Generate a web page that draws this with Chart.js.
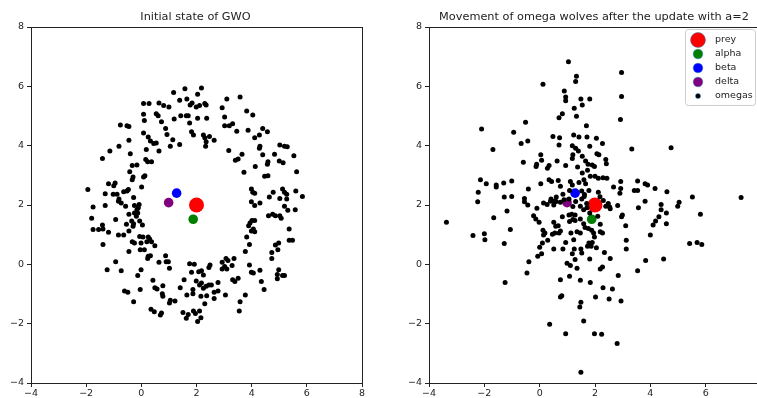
<!DOCTYPE html>
<html>
<head>
<meta charset="utf-8">
<script src="https://cdn.jsdelivr.net/npm/chart.js@4.4.0/dist/chart.umd.min.js"></script>
<style>
  html, body { margin: 0; padding: 0; background: #fff; overflow: hidden; width: 757px; height: 398px; }
  #left { position: absolute; left: 0; top: 0; }
  #right { position: absolute; left: 398px; top: 0; }
</style>
</head>
<body>
<canvas id="left" width="380" height="398"></canvas>
<canvas id="right" width="400" height="398"></canvas>
<script>
// wolf pack positions
const axisTicks = [-4, -2, 0, 2, 4, 6, 8];
const legendLabels = ['prey', 'alpha', 'beta', 'delta', 'omegas'];
const titles = ['Initial state of GWO', 'Movement of omega wolves after the update with a=2'];

const prey = [2.0, 2.0];
const alpha = [1.88, 1.52];
const beta = [1.28, 2.40];
const delta = [0.99, 2.08];

// omegas before the update: a ring around the prey
const startOmegas = [
  [1.17,5.79],[1.58,5.92],[2.18,5.94],[2.04,5.73],[1.39,5.53],[1.65,5.57],[1.84,5.44],[1.99,5.30],
  [1.77,5.37],[2.11,5.35],[2.30,5.42],[2.35,5.37],[1.00,5.30],[0.64,5.44],[0.81,5.35],[0.08,5.42],
  [0.28,5.42],[2.93,5.28],[3.10,5.57],[3.58,5.64],[3.82,5.17],[4.04,5.03],[3.02,4.97],[3.19,4.67],
  [3.31,4.74],[3.46,4.49],[3.02,4.67],[0.08,5.06],[0.11,4.85],[0.54,5.08],[0.61,5.01],[0.73,4.81],
  [0.88,4.58],[1.19,4.90],[1.43,5.01],[1.63,5.01],[1.70,5.01],[1.75,4.76],[2.04,4.92],[2.37,4.92],
  [-0.76,4.70],[-0.52,4.67],[-0.45,4.65],[0.08,4.43],[0.25,4.29],[0.33,4.16],[0.45,4.07],[0.54,4.09],
  [0.93,4.38],[1.82,4.47],[1.89,4.36],[2.25,4.36],[2.30,4.27],[2.47,4.31],[2.64,4.18],[2.35,4.13],
  [2.33,3.98],[1.14,4.20],[1.05,3.98],[1.39,4.04],[-0.45,4.18],[-0.81,3.98],[-1.14,3.82],[-1.41,3.57],
  [-0.40,3.73],[0.18,3.87],[0.64,3.82],[0.16,3.53],[0.23,3.46],[0.37,3.46],[-0.42,3.12],[-0.33,3.33],
  [-0.16,3.35],[-0.30,2.94],[-0.33,2.85],[0.13,2.99],[0.08,2.94],[0.01,2.61],[-1.19,2.72],[-0.95,2.74],
  [-1.00,2.65],[-1.94,2.52],[-1.31,2.38],[-1.02,2.36],[-0.88,2.36],[-0.64,2.45],[-0.52,2.47],[-0.47,2.52],
  [-0.28,2.25],[-0.81,2.20],
  [4.11,4.27],[4.28,4.36],[4.57,4.47],[3.87,4.52],[4.40,4.58],[4.30,3.98],[4.28,3.91],[3.17,3.84],
  [3.41,3.51],[3.51,3.55],[3.65,3.71],[3.72,3.10],[4.13,3.30],[4.59,3.46],[4.83,3.71],[5.02,4.02],
  [5.19,3.98],[5.29,3.96],[5.00,3.48],[5.14,3.42],[5.53,3.66],[4.40,3.69],[4.57,3.37],[5.63,3.12],
  [4.47,2.97],[4.59,2.99],[3.99,2.54],[4.04,2.43],[4.11,2.40],[4.64,2.27],[4.78,2.43],[5.12,2.54],
  [5.19,2.43],[5.27,2.36],[5.60,2.47],[5.84,2.29],[5.27,2.20],[5.02,2.22],
  [-1.75,1.93],[-1.80,1.55],[-1.75,1.17],[-1.55,1.17],[-1.39,1.19],[-1.19,1.08],[-1.31,1.98],[-1.41,1.33],
  [-1.39,0.67],[-0.93,1.51],[-0.83,0.99],[-0.64,0.99],[-0.54,1.35],[-0.45,1.12],[-0.35,1.46],[-0.28,1.37],
  [-0.25,1.73],[-0.18,1.62],[-0.13,1.73],[-0.11,1.91],[-0.08,2.02],[-0.25,1.98],[-0.16,1.84],[-0.45,1.69],
  [-0.57,1.96],[-0.73,2.07],[-0.83,2.13],[-0.06,1.46],[0.04,1.33],[-0.30,1.28],[-0.25,0.72],[-0.33,0.76],
  [-0.45,0.43],[-0.01,0.72],[-0.06,0.94],[0.06,0.92],[-0.04,0.49],[0.11,0.49],[0.25,0.92],[0.30,0.85],
  [0.20,0.76],[0.37,0.76],[0.49,0.63],[0.23,0.20],[0.25,0.27],[0.33,0.29],[-1.24,-0.18],[-0.93,0.09],
  [-0.73,-0.22],[-0.13,-0.38],[-0.01,-0.18],[-0.04,-0.85],[-0.28,-1.26],[-0.61,-0.90],[-0.49,-0.94],
  [0.42,-0.54],[0.49,-0.79],[0.57,-0.83],[0.78,-0.72],[0.76,-0.99],[0.78,-1.08],[0.35,-1.51],[0.47,-1.60],
  [0.69,-1.71],[0.73,-1.64],[0.64,0.07],[0.88,0.29],[0.90,0.09],[0.98,0.09],[1.02,-0.13],[1.02,-1.30],
  [1.22,-1.24],[1.05,-1.21],[1.41,-0.79],[1.55,-0.52],[1.51,-1.62],[1.63,-1.82],[1.70,-1.69],[1.89,-1.57],
  [1.96,-1.66],[2.11,-1.57],[2.16,-1.80],[2.04,-1.93],[1.75,0.02],[1.92,0.00],[1.82,-0.27],[1.87,-0.85],
  [1.87,-0.99],[1.65,-1.03],[1.99,-0.56],[2.08,-0.25],[2.18,-0.22],[2.25,-0.36],[2.11,-0.70],[2.18,-0.63],
  [2.25,-0.81],[2.35,-0.74],[2.45,-0.70],[2.54,-0.70],[2.37,-1.06],[2.16,-1.08],[2.30,-1.33],[2.49,-0.02],
  [2.45,-0.11],[2.64,-0.94],[2.64,-1.15],[2.78,-0.61],[2.78,-0.90],[2.93,-0.16],[3.02,-0.07],[2.93,0.07],
  [3.07,0.20],[3.14,0.13],[3.10,-0.16],[3.29,-0.04],[3.36,0.20],[3.31,-0.52],[3.39,-0.58],[3.05,-1.03],
  [3.51,-0.47],[3.58,-1.26],[3.55,-1.57],[3.77,-1.03],[3.77,0.43],[3.92,0.67],[3.82,0.92],[3.89,1.30],
  [3.94,1.39],[4.01,1.48],[4.11,1.48],[4.06,1.19],[3.99,1.12],[4.11,1.10],[3.92,-0.02],[3.99,-0.27],
  [4.06,-0.29],[4.30,-0.20],[4.35,-0.58],[4.45,-0.85],[3.99,2.11],[4.11,1.98],[4.30,2.07],[4.61,1.64],
  [4.76,1.69],[4.86,1.64],[5.02,1.64],[5.07,1.55],[5.19,1.96],[5.31,1.82],[4.95,0.49],[4.86,0.65],
  [4.73,0.40],[4.73,0.20],[4.98,0.72],[4.93,-0.34],[4.98,-0.18],[4.93,-0.49],[5.12,-0.38],[5.19,-0.38],
  [5.36,1.19],[5.36,0.81],[5.48,0.81],[5.58,1.84]
];

// omegas after one update with a=2
const movedOmegas = [
  [1.04,6.83],[1.33,6.34],[1.30,6.16],[0.12,6.07],[2.96,6.47],[2.96,5.66],[0.89,5.84],[0.94,5.64],
  [0.94,5.51],[1.49,5.57],[1.81,5.57],[1.54,5.37],[1.25,5.26],[1.33,4.99],[0.82,5.08],[0.70,4.94],
  [2.92,4.88],[-0.51,4.79],[-2.10,4.56],[-0.94,4.45],[1.69,4.67],[1.23,4.36],[0.48,4.31],[0.72,4.27],
  [1.42,4.29],[1.71,4.29],[2.05,4.25],[2.27,4.07],[1.81,3.98],[1.18,4.00],[1.30,3.91],[1.40,3.82],
  [0.70,4.02],[-0.43,4.16],[-0.67,4.07],[-1.69,3.87],[3.33,3.89],[4.75,3.93],[0.04,3.69],[0.07,3.51],
  [-0.11,3.37],[-0.13,3.30],[-0.59,3.44],[0.28,3.24],[0.34,3.33],[0.63,3.48],[0.94,3.33],[1.18,3.57],
  [1.20,3.69],[1.54,3.64],[1.66,3.48],[1.75,3.37],[1.54,3.08],[1.73,3.17],[1.83,2.97],[1.60,2.85],
  [1.37,3.28],[1.90,3.35],[1.98,3.30],[2.07,3.73],[2.14,3.69],[2.00,2.97],[2.12,2.90],[2.39,3.53],
  [2.41,3.39],[2.29,2.92],[2.43,2.90],[2.67,2.61],[2.93,2.79],[2.93,2.56],[2.90,2.40],[3.54,2.81],
  [3.81,2.72],[3.90,2.67],[4.17,2.56],[3.42,2.49],[3.54,2.49],[4.60,2.45],[5.52,2.27],[7.28,2.25],
  [-2.14,2.85],[-1.93,2.72],[-1.57,2.67],[-1.57,2.61],[-1.30,2.74],[-1.01,2.81],[-1.28,2.27],[-1.01,2.29],
  [-2.22,2.43],[-0.41,2.54],[0.04,2.72],[0.34,2.85],[0.43,2.79],[0.67,2.83],[0.75,2.63],[1.11,2.79],
  [1.18,2.67],[1.42,2.76],[1.66,2.72],[1.08,2.49],[0.84,2.36],[1.52,2.47],[1.78,2.49],[2.12,2.43],
  [-0.55,2.22],[0.41,2.20],[0.60,2.27],[1.06,2.20],[1.61,2.29],
  [-2.24,2.11],[-3.37,1.42],[-2.41,0.97],[-2.00,1.03],[-1.98,0.83],[-1.66,1.57],[-1.18,1.80],[-1.06,1.17],
  [-1.28,0.70],[-1.25,-0.61],[-0.46,-0.29],[-0.39,0.09],[-0.55,2.11],[-0.43,2.00],[-0.22,1.64],[-0.14,1.53],
  [-0.02,1.42],[-0.10,1.89],[0.14,2.07],[0.27,2.02],[0.39,2.13],[0.51,2.00],[0.53,2.13],[0.75,2.09],
  [0.12,1.15],[0.19,1.06],[0.14,0.99],[0.29,0.81],[0.10,0.72],[0.00,0.58],[-0.07,0.27],[0.07,0.36],
  [0.51,1.42],[0.58,1.28],[0.67,1.30],[0.75,1.12],[0.46,1.01],[0.55,1.06],[0.70,1.06],[0.51,0.52],
  [0.84,0.52],[0.94,0.74],[0.82,1.60],[1.06,1.66],[1.16,1.69],[1.28,1.66],[1.08,1.44],[1.20,1.51],
  [1.28,1.48],[1.47,1.53],[1.59,1.37],[1.64,1.24],[1.47,1.06],[1.35,1.10],[1.13,1.06],[1.23,0.83],
  [1.25,0.52],[1.18,0.36],[1.28,0.16],[0.99,0.04],[1.11,-0.04],[1.35,-0.13],[1.08,-0.40],[0.75,-0.52],
  [1.47,-0.54],[1.83,-0.61],[1.81,0.18],[1.52,0.38],[1.49,0.52],[1.73,0.61],[1.78,0.72],[1.86,0.61],
  [1.90,0.74],[1.98,0.92],[2.05,0.56],[1.95,1.06],[2.19,1.10],[2.27,1.06],[2.19,1.35],[1.88,1.15],
  [1.76,1.21],[2.10,1.62],[2.34,0.40],[2.55,0.20],[2.19,-0.16],[2.27,-0.09],[2.29,-0.79],[2.63,-0.83],
  [2.51,-1.17],[2.94,-1.24],[2.84,-0.38],[2.02,-1.10],[1.49,-1.28],[1.45,-1.44],[0.75,-1.10],[0.80,-1.06],
  [1.59,-1.91],[0.36,-2.02],[0.94,-2.34],[1.98,-2.34],[2.24,-2.36],[2.80,-2.67],[1.49,-3.64],[2.39,1.96],
  [2.55,1.87],[2.82,1.98],[2.96,1.60],[2.99,1.66],[3.11,1.30],[3.13,0.81],[3.13,0.52],[3.57,1.91],
  [3.81,2.13],[3.54,-0.22],[3.83,0.13],[4.00,0.99],[4.10,1.33],[4.19,1.46],[4.31,1.60],[4.39,1.84],
  [4.39,2.02],[4.58,1.73],[4.58,1.37],[4.48,0.18],[4.99,1.96],[5.04,2.09],[5.42,0.70],[5.69,0.74],
  [5.86,0.67],[5.81,1.69],[1.47,1.96],[1.59,1.84],[1.71,1.91],[1.81,1.73],[2.53,1.93],
  [1.30,2.12],[1.52,2.20],[1.70,2.05],[0.60,2.12],[0.88,2.18],[2.30,2.15],[2.48,2.05],[1.20,1.95],
  [1.62,2.35],[2.18,2.28]
];

const font = 'DejaVu Sans';
const ink = '#222';

function toPoints(pairs) {
  return pairs.map(p => ({ x: p[0], y: p[1] }));
}

function scaleOpts(axis) {
  return {
    type: 'linear',
    min: -4,
    max: 8,
    afterBuildTicks: s => { s.ticks = axisTicks.map(v => ({ value: v })); },
    afterFit: s => { if (axis === 'x') s.height = 15; else s.width = 31; },
    grid: { drawOnChartArea: false, drawTicks: true, tickLength: 4, color: ink, lineWidth: 1 },
    border: { display: false },
    ticks: {
      padding: axis === 'x' ? 1 : 3,
      color: ink,
      maxRotation: 0,
      font: { family: font, size: 9.5 },
      callback: v => String(v).replace('-', '\u2212')
    }
  };
}

// frame + title drawn over the plot area
const framePlugin = {
  id: 'frame',
  afterDatasetsDraw(chart, args, opts) {
    const a = chart.chartArea;
    const c = chart.ctx;
    c.save();
    c.strokeStyle = ink;
    c.lineWidth = 1;
    c.strokeRect(Math.round(a.left) + 0.5, Math.round(a.top) + 0.5,
      Math.round(a.right - a.left), Math.round(a.bottom - a.top));
    c.fillStyle = ink;
    c.font = '11.3px "' + font + '"';
    c.textAlign = 'center';
    c.textBaseline = 'middle';
    c.fillText(opts.text, (a.left + a.right) / 2 - 1, 17);
    c.restore();
  }
};

// legend box in the upper right corner
const legendBoxPlugin = {
  id: 'legendBox',
  afterDatasetsDraw(chart, args, opts) {
    if (!opts.show) return;
    const a = chart.chartArea;
    const c = chart.ctx;
    const right = a.right - 6, top = a.top + 2, w = 70, h = 76;
    c.save();
    c.fillStyle = 'rgba(255,255,255,0.85)';
    c.strokeStyle = '#cccccc';
    c.lineWidth = 1;
    c.beginPath();
    c.roundRect(right - w + 0.5, top + 0.5, w, h, 3);
    c.fill();
    c.stroke();
    chart.data.datasets.forEach((ds, i) => {
      const y = top + 11 + i * 14;
      const mx = right - w + 13;
      c.beginPath();
      c.arc(mx, y, ds.pointRadius, 0, Math.PI * 2);
      c.fillStyle = ds.backgroundColor;
      c.fill();
      c.strokeStyle = 'rgba(31,119,180,0.45)';
      c.lineWidth = 1;
      c.stroke();
      c.fillStyle = ink;
      c.font = '9.5px "' + font + '"';
      c.textAlign = 'left';
      c.textBaseline = 'middle';
      c.fillText(ds.label, right - w + 30, y);
    });
    c.restore();
  }
};

function makeChart(id, omegas, title, showLegend, padRight) {
  const leaders = [prey, alpha, beta, delta];
  const colors = ['#ff0000', '#008000', '#0000ff', '#800080'];
  const radii = [7.5, 4.8, 4.8, 4.8];
  const datasets = leaders.map((p, i) => ({
    label: legendLabels[i],
    data: toPoints([p]),
    backgroundColor: colors[i],
    borderWidth: 0,
    pointRadius: radii[i],
    pointHoverRadius: radii[i],
    order: 5 - i
  }));
  // omegas are plotted last, on top of the leaders
  datasets.push({
    label: legendLabels[4],
    data: toPoints(omegas),
    backgroundColor: '#000000',
    borderWidth: 0,
    pointRadius: 2.5,
    pointHoverRadius: 2.5,
    order: 0
  });
  return new Chart(document.getElementById(id), {
    type: 'scatter',
    data: { datasets: datasets },
    options: {
      responsive: false,
      animation: false,
      devicePixelRatio: 1,
      layout: { padding: { top: 27, right: padRight, bottom: 0, left: 0 } },
      scales: { x: scaleOpts('x'), y: scaleOpts('y') },
      plugins: {
        legend: { display: false },
        tooltip: { enabled: false },
        frame: { text: title },
        legendBox: { show: showLegend }
      }
    },
    plugins: [framePlugin, legendBoxPlugin]
  });
}

makeChart('left', startOmegas, titles[0], false, 18);
makeChart('right', movedOmegas, titles[1], true, 37);
</script>
</body>
</html>
